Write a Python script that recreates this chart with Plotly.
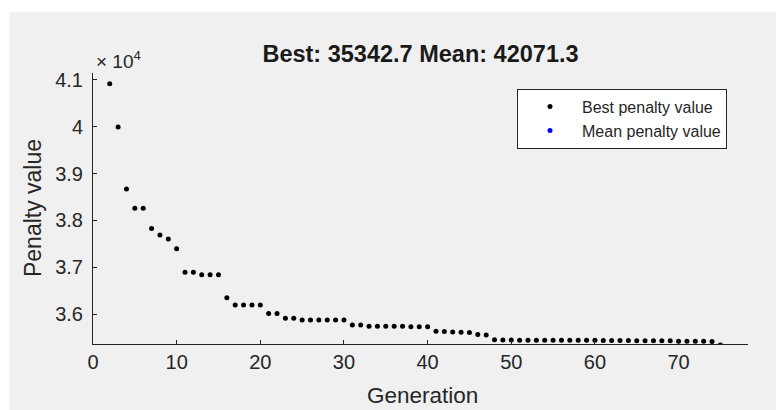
import plotly.graph_objects as go

# ---- data ----
generations = list(range(2, 76))
best_penalty = [
    40915, 39995, 38670, 38260, 38260, 37828, 37692, 37607, 37394,      # 2-10
    36893, 36893, 36842, 36842, 36842, 36353, 36198, 36198, 36198, 36198,  # 11-20
    36013, 36013, 35915, 35915, 35879, 35879, 35879, 35879, 35879, 35879,  # 21-30
    35770, 35770, 35745, 35745, 35745, 35745, 35745, 35735, 35735, 35735,  # 31-40
    35635, 35630, 35620, 35615, 35610, 35570, 35555, 35455, 35448, 35448,  # 41-50
    35446, 35446, 35446, 35445, 35445, 35445, 35444, 35444, 35444, 35443,  # 51-60
    35440, 35440, 35438, 35438, 35436, 35436, 35435, 35433, 35432, 35425,  # 61-70
    35424, 35423, 35422, 35420, 35342.7,                                # 71-75
]
mean_generations = [75]
mean_penalty = [42071.3]

y_tickvals = [36000, 37000, 38000, 39000, 40000, 41000]
y_ticktext = ["3.6", "3.7", "3.8", "3.9", "4", "4.1"]
x_tickvals = [0, 10, 20, 30, 40, 50, 60, 70]

title_text = "Best: 35342.7 Mean: 42071.3"

# ---- layout geometry (page pixels; the page body adds an 8px margin) ----
OFF = 8
W, H = 784 - OFF, 410 - OFF
L, R, T, B = 92.7 - OFF, 748.0 - OFF, 73.3 - OFF, 344.3 - OFF
pw, ph = R - L, B - T

def px(x):
    return (x - OFF - L) / pw

def py(y):
    return (B - (y - OFF)) / ph

FONT = "Liberation Sans, Arial, sans-serif"
AX = "#262626"

fig = go.Figure()
fig.add_trace(go.Scatter(
    x=generations, y=best_penalty, mode="markers", name="Best penalty value",
    marker=dict(color="black", size=5),
))
fig.add_trace(go.Scatter(
    x=mean_generations, y=mean_penalty, mode="markers", name="Mean penalty value",
    marker=dict(color="#0000ff", size=5),
))

fig.update_layout(
    width=W, height=H,
    margin=dict(l=L, r=W - R, t=T, b=H - B, pad=0),
    paper_bgcolor="white",
    plot_bgcolor="white",
    font=dict(family=FONT, color=AX),
    title=dict(text="<b>" + title_text + "</b>", x=0.5, xref="paper",
               y=1 - (54 - OFF) / H, yref="container", yanchor="middle",
               font=dict(size=23.5, color="#1a1a1a", family=FONT)),
    showlegend=True,
    legend=dict(x=px(727), y=py(89), xanchor="right", yanchor="top",
                bgcolor="white", bordercolor=AX, borderwidth=1,
                font=dict(size=16, color=AX, family=FONT),
                itemwidth=54, tracegroupgap=0),
    shapes=[dict(type="rect", xref="paper", yref="paper", layer="below",
                 x0=px(9), x1=px(800), y0=py(12), y1=py(420),
                 fillcolor="#f0f0f0", line=dict(width=0))],
    annotations=[
        dict(text="Penalty value", xref="paper", yref="paper",
             x=px(32), y=py(208), textangle=-90, showarrow=False,
             xanchor="center", yanchor="middle",
             font=dict(size=23, color=AX, family=FONT)),
        dict(text="Generation", xref="paper", yref="paper",
             x=px(422), y=py(396), showarrow=False,
             xanchor="center", yanchor="middle",
             font=dict(size=22.5, color=AX, family=FONT)),
        dict(text="\u00d7 10<sup>4</sup>", xref="paper", yref="paper",
             x=px(94), y=py(60), showarrow=False,
             xanchor="left", yanchor="middle",
             font=dict(size=19, color=AX, family=FONT)),
    ],
)

fig.update_xaxes(
    range=[0, 78.3], tickvals=x_tickvals, ticks="inside", ticklen=4,
    tickcolor=AX, showline=True, linecolor=AX, linewidth=1, mirror=False,
    showgrid=False, zeroline=False,
    tickfont=dict(size=20, color=AX, family=FONT),
)
fig.update_yaxes(
    range=[35365, 41145], tickvals=y_tickvals, ticktext=y_ticktext,
    ticks="inside", ticklen=4, tickcolor=AX, showline=True, linecolor=AX,
    linewidth=1, mirror=False, showgrid=False, zeroline=False,
    ticklabelstandoff=5,
    tickfont=dict(size=20, color=AX, family=FONT),
)

fig.write_html("out.html")
